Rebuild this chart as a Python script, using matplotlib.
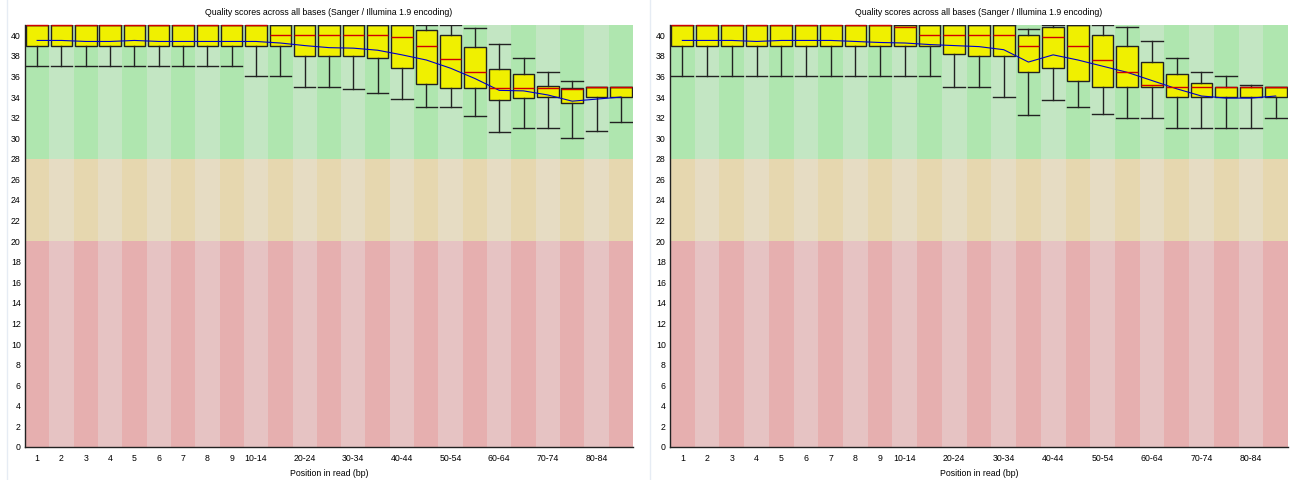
import numpy as np
import matplotlib
matplotlib.use('Agg')
import matplotlib.pyplot as plt
from matplotlib.lines import Line2D

plt.rcParams['font.family'] = ['Liberation Sans', 'DejaVu Sans']

positions = ['1', '2', '3', '4', '5', '6', '7', '8', '9',
             '10-14', '15-19', '20-24', '25-29', '30-34', '35-39', '40-44',
             '45-49', '50-54', '55-59', '60-64', '65-69', '70-74', '75-79',
             '80-84', '85-89']
# only every other group label is printed after 10-14
shown = ['1', '2', '3', '4', '5', '6', '7', '8', '9',
         '10-14', '20-24', '30-34', '40-44', '50-54', '60-64', '70-74', '80-84']

# left file
q3_l = [41] * 16 + [40.55, 40, 38.9, 36.7, 36.2, 35.1, 34.9, 35, 35]
med_l = [41] * 10 + [40, 40, 40, 40, 40, 39.8, 39, 37.7, 36.4, 34.9, 34.9, 34.9, 34.8, 35, 35]
q1_l = [39] * 11 + [38, 38, 38, 37.8, 36.8, 35.3, 34.9, 34.9, 33.75, 33.95, 34, 33.4, 34, 34]
whislo_l = [37] * 9 + [36, 36, 35, 35, 34.8, 34.4, 33.8, 33, 33, 32.2, 30.6, 31, 31, 30, 30.75, 31.6]
whishi_l = [41] * 18 + [40.75, 39.2, 37.8, 36.4, 35.6, 35, 35]
mean_l = [39.5, 39.5, 39.4, 39.4, 39.5, 39.4, 39.4, 39.4, 39.4,
          39.4, 39.25, 39.0, 38.8, 38.75, 38.55, 38.1, 37.6, 36.8, 35.8,
          34.65, 34.6, 34.2, 33.6, 33.8, 34.0]

# right file
q3_r = [41] * 14 + [40.05, 40.85, 41, 40, 39, 37.4, 36.25, 35.4, 35, 35, 35]
med_r = [41] * 9 + [40.8, 40, 40, 40, 40, 39, 39.8, 39, 37.6, 36.4, 35.2, 35, 35, 35, 35, 35]
q1_r = [39] * 11 + [38.2, 38, 38, 36.4, 36.8, 35.6, 35, 35, 35, 34, 34, 34, 34, 34]
whislo_r = [36] * 11 + [35, 35, 34, 32.3, 33.75, 33, 32.4, 32, 32, 31, 31, 31, 31, 32]
whishi_r = [41] * 14 + [40.6, 41, 41, 41, 40.85, 39.4, 37.8, 36.4, 36, 35.2, 35]
mean_r = [39.5, 39.5, 39.5, 39.4, 39.5, 39.5, 39.5, 39.4, 39.3,
          39.25, 39.1, 39.0, 38.9, 38.6, 37.4, 38.1, 37.6, 37.0, 36.4,
          35.6, 34.8, 34.1, 33.9, 33.9, 34.1]

TITLE = 'Quality scores across all bases (Sanger / Illumina 1.9 encoding)'

zones = [(28, 41, ('#afe6af', '#c3e6c3')),
         (20, 28, ('#e6d7af', '#e6dcc3')),
         (0, 20, ('#e6afaf', '#e6c3c3'))]


def draw_panel(ax, q1, med, q3, wlo, whi, mean):
    x = np.arange(1, len(positions) + 1)
    for lo, hi, cols in zones:
        ax.bar(x, hi - lo, bottom=lo, width=1.0,
               color=[cols[i % 2] for i in range(len(x))], zorder=0)

    stats = []
    for i in range(len(x)):
        stats.append(dict(med=med[i], q1=q1[i], q3=q3[i],
                          whislo=wlo[i], whishi=whi[i]))
    bp = ax.bxp(stats, positions=x, widths=0.88, capwidths=0.88,
                showfliers=False, patch_artist=True,
                boxprops=dict(facecolor='#f0f000', edgecolor='#222222', linewidth=1.0),
                medianprops=dict(color='#d00000', linewidth=1.0),
                whiskerprops=dict(color='#222222', linewidth=1.0),
                capprops=dict(color='#222222', linewidth=1.0),
                manage_ticks=False, zorder=2)
    for m in bp['medians']:
        m.set_clip_on(False)
        m.set_zorder(4)
    ax.plot(x, mean, color='#0000c8', linewidth=0.8, zorder=3)

    ax.set_xlim(0.5, len(x) + 0.5)
    ax.set_ylim(0, 41)
    ax.set_yticks(np.arange(0, 41, 2))
    ax.set_xticks(x)
    ax.set_xticklabels([p if p in shown else '' for p in positions])
    ax.tick_params(length=0, labelsize=6.3, pad=3)
    ax.tick_params(axis='x', pad=5)
    for s in ['top', 'right']:
        ax.spines[s].set_visible(False)
    for s in ['left', 'bottom']:
        ax.spines[s].set_color('#222222')
        ax.spines[s].set_linewidth(1.0)
    ax.set_title(TITLE, fontsize=6.3, pad=7)
    ax.set_xlabel('Position in read (bp)', fontsize=6.3, labelpad=4)


fig = plt.figure(figsize=(13.06, 4.8), dpi=100)
ax1 = fig.add_axes([25 / 1306, 33 / 480, 608 / 1306, 422 / 480])
ax2 = fig.add_axes([670 / 1306, 33 / 480, 618 / 1306, 422 / 480])

draw_panel(ax1, q1_l, med_l, q3_l, whislo_l, whishi_l, mean_l)
draw_panel(ax2, q1_r, med_r, q3_r, whislo_r, whishi_r, mean_r)

# faint frame lines of the original screenshots
for xf in [7 / 1306, 650 / 1306]:
    fig.add_artist(Line2D([xf, xf], [0, 1], color='#e6ecf4', linewidth=1.0))

fig.savefig('out.png', dpi=100)
